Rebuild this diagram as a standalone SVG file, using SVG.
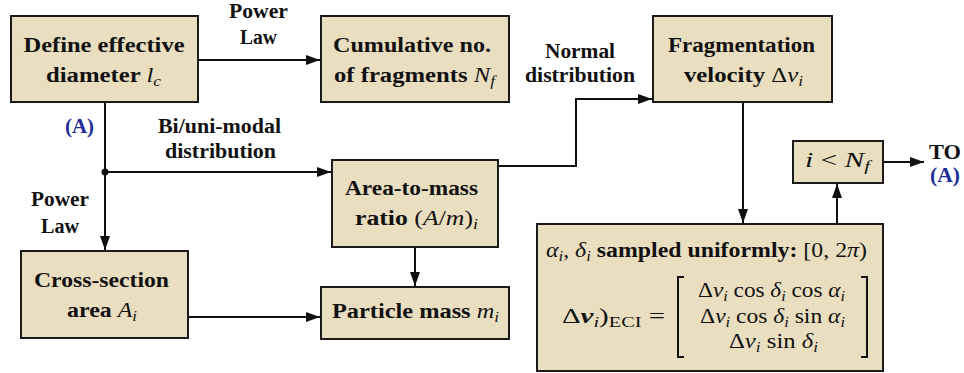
<svg xmlns="http://www.w3.org/2000/svg" width="964" height="373" viewBox="0 0 964 373">
<style>
.box{fill:#e9dec0;stroke:#1a1a1a;stroke-width:2}
.t{font-family:"Liberation Serif","DejaVu Serif",serif;font-weight:bold;font-size:20px;fill:#111}
.m{font-family:"Liberation Serif","DejaVu Serif",serif;font-style:italic;font-weight:normal}
.r{font-family:"Liberation Serif","DejaVu Serif",serif;font-style:normal;font-weight:normal}
.s{font-size:14px}
.blue{fill:#1c2c96}
.c{fill:none;stroke:#111;stroke-width:2}
</style>
<defs>
<marker id="ah" markerUnits="userSpaceOnUse" markerWidth="16" markerHeight="12" refX="14" refY="5" orient="auto">
<path d="M0,0 L14,5 L0,10 z" fill="#111"/>
</marker>
</defs>

<g id="connectors">
<path class="c" d="M198,60 H320" marker-end="url(#ah)"/>
<path class="c" d="M105,102 V250" marker-end="url(#ah)"/>
<path class="c" d="M105,172 H331" marker-end="url(#ah)"/>
<circle cx="105" cy="172" r="3.5" fill="#111"/>
<path class="c" d="M498,166 H576 V99 H652" marker-end="url(#ah)"/>
<path class="c" d="M743,102 V223" marker-end="url(#ah)"/>
<path class="c" d="M837,224 V184" marker-end="url(#ah)"/>
<path class="c" d="M883,162 H924" marker-end="url(#ah)"/>
<path class="c" d="M188,317 H320" marker-end="url(#ah)"/>
<path class="c" d="M415,247 V286" marker-end="url(#ah)"/>
<text class="t" x="258.5" y="18" text-anchor="middle" textLength="59" lengthAdjust="spacingAndGlyphs">Power</text>
<text class="t" x="258.5" y="44" text-anchor="middle" textLength="37" lengthAdjust="spacingAndGlyphs">Law</text>
<text class="t blue" x="79.5" y="133" text-anchor="middle" textLength="29" lengthAdjust="spacingAndGlyphs">(A)</text>
<text class="t" x="219.5" y="133" text-anchor="middle" textLength="123" lengthAdjust="spacingAndGlyphs">Bi/uni-modal</text>
<text class="t" x="220.5" y="158" text-anchor="middle" textLength="111" lengthAdjust="spacingAndGlyphs">distribution</text>
<text class="t" x="60" y="206" text-anchor="middle" textLength="58" lengthAdjust="spacingAndGlyphs">Power</text>
<text class="t" x="60" y="233" text-anchor="middle" textLength="38" lengthAdjust="spacingAndGlyphs">Law</text>
<text class="t" x="580" y="58" text-anchor="middle" textLength="70" lengthAdjust="spacingAndGlyphs">Normal</text>
<text class="t" x="580" y="82" text-anchor="middle" textLength="110" lengthAdjust="spacingAndGlyphs">distribution</text>
<text class="t" x="929" y="159" font-size="19" textLength="32" lengthAdjust="spacingAndGlyphs">TO</text>
<text class="t blue" x="930" y="182" font-size="19" textLength="30" lengthAdjust="spacingAndGlyphs">(A)</text>
</g>

<g id="node-diameter">
<rect class="box" x="11" y="16" width="187" height="86"/>
<text class="t" x="104" y="52" text-anchor="middle" textLength="161" lengthAdjust="spacingAndGlyphs">Define effective</text>
<text class="t" x="103.5" y="82" text-anchor="middle" textLength="115" lengthAdjust="spacingAndGlyphs">diameter <tspan class="m">l</tspan><tspan class="m s" dy="4">c</tspan></text>
</g>

<g id="node-cumulative">
<rect class="box" x="321" y="16" width="188" height="86"/>
<text class="t" x="412" y="52" text-anchor="middle" textLength="158" lengthAdjust="spacingAndGlyphs">Cumulative no.</text>
<text class="t" x="414.5" y="82" text-anchor="middle" textLength="161" lengthAdjust="spacingAndGlyphs">of fragments <tspan class="m">N</tspan><tspan class="m s" dy="4">f</tspan></text>
</g>

<g id="node-velocity">
<rect class="box" x="653" y="16" width="179" height="86"/>
<text class="t" x="741.5" y="52" text-anchor="middle" textLength="147" lengthAdjust="spacingAndGlyphs">Fragmentation</text>
<text class="t" x="743.5" y="82" text-anchor="middle" textLength="119" lengthAdjust="spacingAndGlyphs">velocity <tspan class="r">Δ</tspan><tspan class="m">v</tspan><tspan class="m s" dy="4">i</tspan></text>
</g>

<g id="node-area-mass">
<rect class="box" x="332" y="160" width="166" height="87"/>
<text class="t" x="411.5" y="195" text-anchor="middle" textLength="133" lengthAdjust="spacingAndGlyphs">Area-to-mass</text>
<text class="t" x="416.5" y="225" text-anchor="middle" textLength="123" lengthAdjust="spacingAndGlyphs">ratio <tspan class="r">(</tspan><tspan class="m">A</tspan><tspan class="r">/</tspan><tspan class="m">m</tspan><tspan class="r">)</tspan><tspan class="m s" dy="4">i</tspan></text>
</g>

<g id="node-cross-section">
<rect class="box" x="21" y="251" width="167" height="87"/>
<text class="t" x="101.5" y="287" text-anchor="middle" textLength="135" lengthAdjust="spacingAndGlyphs">Cross-section</text>
<text class="t" x="102" y="317" text-anchor="middle" textLength="70" lengthAdjust="spacingAndGlyphs">area <tspan class="m">A</tspan><tspan class="m s" dy="4">i</tspan></text>
</g>

<g id="node-particle-mass">
<rect class="box" x="321" y="287" width="188" height="52"/>
<text class="t" x="415.5" y="318" text-anchor="middle" textLength="167" lengthAdjust="spacingAndGlyphs">Particle mass  <tspan class="m">m</tspan><tspan class="m s" dy="4">i</tspan></text>
</g>

<g id="node-loop">
<rect class="box" x="793" y="141" width="90" height="42"/>
<text class="t" x="837.5" y="167" text-anchor="middle" textLength="65" lengthAdjust="spacingAndGlyphs"><tspan class="m">i</tspan><tspan class="r"> &lt; </tspan><tspan class="m">N</tspan><tspan class="m s" dy="4">f</tspan></text>
</g>

<g id="node-sampling">
<rect class="box" x="537" y="224" width="346" height="147"/>
<text class="t" x="546" y="257" textLength="321" lengthAdjust="spacingAndGlyphs"><tspan class="m">α</tspan><tspan class="m s" dy="4">i</tspan><tspan class="r" dy="-4">, </tspan><tspan class="m">δ</tspan><tspan class="m s" dy="4">i</tspan><tspan dy="-4"> sampled uniformly: </tspan><tspan class="r">[0, 2</tspan><tspan class="m">π</tspan><tspan class="r">)</tspan></text>
<text class="t" x="562" y="323" textLength="103" lengthAdjust="spacingAndGlyphs"><tspan class="r">Δ</tspan><tspan font-style="italic">v</tspan><tspan class="m s" dy="4">i</tspan><tspan class="r" dy="-4">)</tspan><tspan class="r s" dy="4">ECI</tspan><tspan class="r" dy="-4"> =</tspan></text>
<path class="c" d="M684,277 H678 V357 H684 M861,277 H867 V357 H861"/>
<text class="t" x="771.5" y="297" text-anchor="middle" textLength="147" lengthAdjust="spacingAndGlyphs"><tspan class="r">Δ</tspan><tspan class="m">v</tspan><tspan class="m s" dy="4">i</tspan><tspan class="r" dy="-4"> cos </tspan><tspan class="m">δ</tspan><tspan class="m s" dy="4">i</tspan><tspan class="r" dy="-4"> cos </tspan><tspan class="m">α</tspan><tspan class="m s" dy="4">i</tspan></text>
<text class="t" x="772.5" y="323" text-anchor="middle" textLength="145" lengthAdjust="spacingAndGlyphs"><tspan class="r">Δ</tspan><tspan class="m">v</tspan><tspan class="m s" dy="4">i</tspan><tspan class="r" dy="-4"> cos </tspan><tspan class="m">δ</tspan><tspan class="m s" dy="4">i</tspan><tspan class="r" dy="-4"> sin </tspan><tspan class="m">α</tspan><tspan class="m s" dy="4">i</tspan></text>
<text class="t" x="773.5" y="348" text-anchor="middle" textLength="89" lengthAdjust="spacingAndGlyphs"><tspan class="r">Δ</tspan><tspan class="m">v</tspan><tspan class="m s" dy="4">i</tspan><tspan class="r" dy="-4"> sin </tspan><tspan class="m">δ</tspan><tspan class="m s" dy="4">i</tspan></text>
</g>
</svg>
